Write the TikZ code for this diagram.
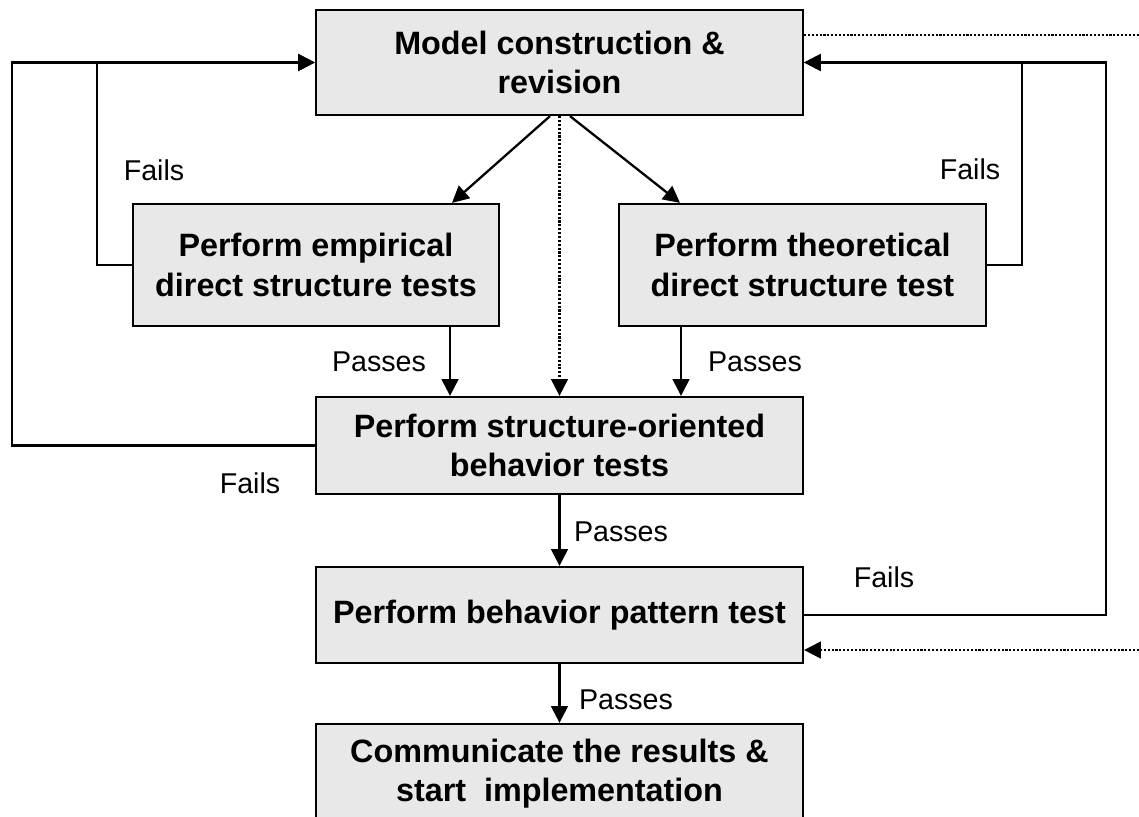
\documentclass[tikz,border=0pt]{standalone}
\usepackage{fontspec}
\setmainfont{Liberation Sans}
\usetikzlibrary{arrows.meta,calc}
\definecolor{boxgray}{RGB}{232,232,232}
\tikzset{
    stepbox/.style={draw, line width=1.3pt, fill=boxgray, align=center, inner sep=0pt,
        font=\fontsize{18.4}{22.3}\selectfont\bfseries},
    lbl/.style={font=\fontsize{16.3}{19}\selectfont},
    arr/.style={line width=1.3pt, -{Triangle[length=9.5pt,width=9.5pt]}},
    dots/.style={line width=1.2pt, densely dotted}
}
\begin{document}
\begin{tikzpicture}[x=0.02cm, y=-0.02cm]
    \clip (0,0) rectangle (1139,817);
    \node[stepbox, minimum width=9.74cm, minimum height=2.10cm] (model)  at (559.5,62.5) {Model construction \&\\revision};
    \node[stepbox, minimum width=7.32cm, minimum height=2.44cm] (emp)    at (316,265)    {Perform empirical\\direct structure tests};
    \node[stepbox, minimum width=7.34cm, minimum height=2.44cm] (theo)   at (802.5,265)  {Perform theoretical\\direct structure test};
    \node[stepbox, minimum width=9.74cm, minimum height=1.94cm] (struct) at (559.5,445.5) {Perform structure-oriented\\behavior tests};
    \node[stepbox, minimum width=9.74cm, minimum height=1.92cm] (behav)  at (559.5,615)  {Perform behavior pattern test};
    \node[stepbox, minimum width=9.74cm, minimum height=2.00cm] (comm)   at (559.5,774)  {Communicate the results \&\\start~~implementation};

    \coordinate (lin)  at (97,0);
    \coordinate (lout) at (12,0);
    \coordinate (rin)  at (1022,0);
    \coordinate (rout) at (1106,0);
    \coordinate (dtop) at (1139,35);
    \coordinate (dbot) at (1139,650);

    \draw[arr] ($(model.south)+(-9.5,0)$) -- ($(emp.north)+(136,0)$);
    \draw[arr] ($(model.south)+(10.5,0)$) -- ($(theo.north)+(-122.5,0)$);
    \draw[arr, dots] (model.south) -- (struct.north);
    \draw[arr] ($(emp.south)+(134,0)$) coordinate (ea) -- (ea |- struct.north);
    \draw[arr] ($(theo.south)+(-121.5,0)$) coordinate (ta) -- (ta |- struct.north);
    \draw[arr] (struct.south) -- (behav.north);
    \draw[arr] (behav.south) -- (comm.north);

    \draw[arr] (emp.west) -| (lin |- model.west) -- (model.west);
    \draw[arr] (struct.west) -| (lout |- model.west) -- (model.west);
    \draw[arr] (theo.east) -| (rin |- model.east) -- (model.east);
    \draw[arr] (behav.east) -| (rout |- model.east) -- (model.east);

    \draw[dots] (model.east |- dtop) -- (dtop);
    \draw[arr, dots] (dbot) -- (behav.east |- dbot);

    \node[lbl] (f1) at (154,170) {Fails};
    \node[lbl] (f2) at (970,169) {Fails};
    \node[lbl] (f3) at (250,483) {Fails};
    \node[lbl] (f4) at (884,577) {Fails};
    \node[lbl] (p1) at (379,362) {Passes};
    \node[lbl] (p2) at (755,362) {Passes};
    \node[lbl] (p3) at (621,532) {Passes};
    \node[lbl] (p4) at (626,700) {Passes};
\end{tikzpicture}
\end{document}
